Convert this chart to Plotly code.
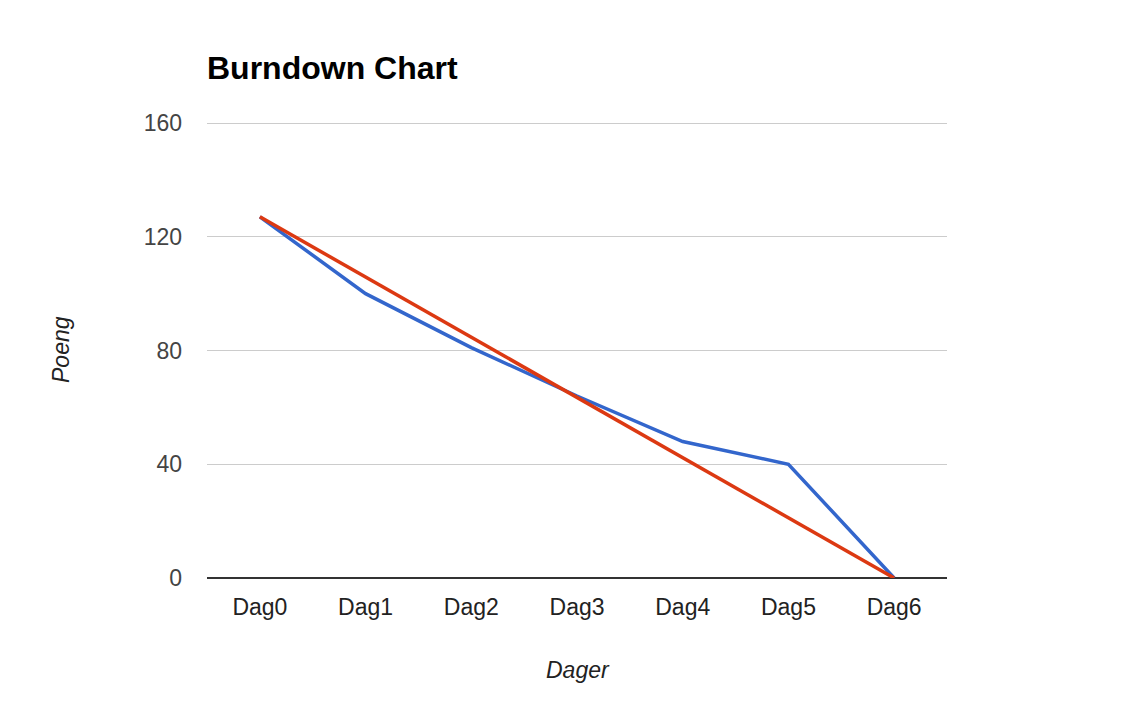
import plotly.graph_objects as go

days = ["Dag0", "Dag1", "Dag2", "Dag3", "Dag4", "Dag5", "Dag6"]
actual = [127, 100, 81, 64, 48, 40, 0]
ideal = [127, 105.8, 84.7, 63.5, 42.3, 21.2, 0]
y_ticks = [0, 40, 80, 120, 160]

# page body has an 8px margin, so the figure is drawn 8px smaller
OFF = 8
W, H = 1130 - OFF, 706 - OFF
L, R, T, B = 207 - OFF, 183, 118 - OFF, 128
plot_w = W - L - R
plot_h = H - T - B
# 0 sits at y=578 and 160 at y=123 on the page; leave room above so the top grid line shows
y_top = 160 * plot_h / (578 - 123)

font = "Liberation Sans, Arial, sans-serif"

fig = go.Figure()
fig.add_trace(go.Scatter(x=days, y=actual, mode="lines", name="Faktisk",
                         line=dict(color="#3366cc", width=3.5)))
fig.add_trace(go.Scatter(x=days, y=ideal, mode="lines", name="Ideell",
                         line=dict(color="#dc3912", width=3.5)))

fig.update_layout(
    width=W, height=H,
    margin=dict(l=L, r=R, t=T, b=B),
    paper_bgcolor="white", plot_bgcolor="white",
    showlegend=False,
    font=dict(family=font, size=23, color="#444"),
    title=dict(text="<b>Burndown Chart</b>", x=L / W, xanchor="left", xref="container",
               y=1 - (68 - OFF) / H, yanchor="middle", yref="container",
               font=dict(family=font, size=32, color="#000")),
)
fig.update_xaxes(type="category", range=[-0.5, 6.5], showgrid=False, showline=False,
                 zeroline=False, ticks="", ticklabelstandoff=13,
                 tickfont=dict(size=23, color="#222"))
fig.update_yaxes(range=[0, y_top], tickvals=y_ticks, showgrid=True,
                 gridcolor="#cccccc", gridwidth=1, zeroline=True, zerolinecolor="#333",
                 zerolinewidth=2, showline=False, ticks="", ticklabelstandoff=24,
                 tickfont=dict(size=23, color="#444"))

page_top = T + OFF
fig.add_annotation(text="<i>Poeng</i>", xref="paper", yref="paper",
                   x=(61 - 207) / plot_w, y=1 - (350 - page_top) / plot_h, textangle=-90,
                   xanchor="center", yanchor="middle", showarrow=False,
                   font=dict(family=font, size=23, color="#222"))
fig.add_annotation(text="<i>Dager</i>", xref="paper", yref="paper",
                   x=(578 - 207) / plot_w, y=1 - (670 - page_top) / plot_h,
                   xanchor="center", yanchor="middle", showarrow=False,
                   font=dict(family=font, size=23, color="#222"))

fig.write_html("out.html")
